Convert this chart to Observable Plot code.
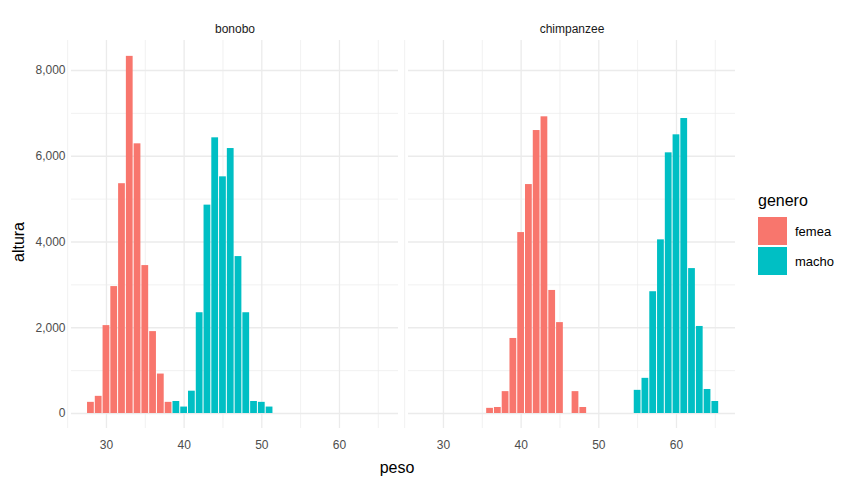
<!DOCTYPE html>
<html><head><meta charset="utf-8">
<script src="https://cdn.jsdelivr.net/npm/d3@7"></script>
<script src="https://cdn.jsdelivr.net/npm/@observablehq/plot@0.6"></script>
<style>
body{margin:0;font-family:"Liberation Sans",Arial,sans-serif;background:#fff}
#wrap{position:relative;width:862px;height:486px}
#legend{position:absolute;left:758px;top:192px;font-size:13px;color:#000}
#legend .t{font-size:16px;margin-bottom:6px}
#legend .r{display:flex;align-items:center;height:30px}
#legend .b{width:29px;height:28px;margin-right:8px}
</style></head><body>
<div id="wrap"><div id="chart"></div>
<div id="legend"><div class="t">genero</div>
<div class="r"><div class="b" style="background:#F8766D"></div>femea</div>
<div class="r"><div class="b" style="background:#00BFC4"></div>macho</div></div></div>
<script>
const species = ["bonobo","chimpanzee"];
const generos = ["femea","macho"];
const bonoboFemeaBins = [28,29,30,31,32,33,34,35,36,37,38];
const bonoboFemeaCounts = [260,400,2050,2960,5360,8330,6290,3450,1910,920,260];
const bonoboMachoBins = [39,40,41,42,43,44,45,46,47,48,49,50,51];
const bonoboMachoCounts = [280,150,520,2350,4860,6430,5520,6180,3660,2350,280,260,150];
const chimpFemeaBins = [36,37,38,39,40,41,42,43,44,45,47,48];
const chimpFemeaCounts = [120,140,510,1750,4220,5340,6600,6920,2870,2120,510,140];
const chimpMachoBins = [55,56,57,58,59,60,61,62,63,64,65];
const chimpMachoCounts = [540,820,2840,4050,6080,6500,6880,3380,2030,560,280];
const xTicks = [30,40,50,60];
const yTicks = [0,2000,4000,6000,8000];

const rows = [];
const add = (sp, g, bins, counts) => bins.forEach((b,i)=>rows.push({sp, g, x1:b-0.5, x2:b+0.5, y:counts[i]}));
add("bonobo","femea",bonoboFemeaBins,bonoboFemeaCounts);
add("bonobo","macho",bonoboMachoBins,bonoboMachoCounts);
add("chimpanzee","femea",chimpFemeaBins,chimpFemeaCounts);
add("chimpanzee","macho",chimpMachoBins,chimpMachoCounts);

const g = "#ebebeb";
const chart = Plot.plot({
  width: 862, height: 486,
  marginLeft: 70, marginRight: 127, marginTop: 40, marginBottom: 58,
  style: {fontFamily: "Liberation Sans, Arial, sans-serif", fontSize: "12px"},
  fx: {domain: species, paddingInner: 0.03, paddingOuter: 0, label: null},
  x: {domain: [25.5, 67.6]},
  y: {domain: [-350, 8700]},
  color: {domain: generos, range: ["#F8766D","#00BFC4"]},
  marks: [
    Plot.gridX(d3.range(25,70,5), {stroke: g, strokeOpacity: 1, strokeWidth: d=> d%10===0?1.3:0.7}),
    Plot.gridY(d3.range(0,9000,1000), {stroke: g, strokeOpacity: 1, strokeWidth: d=> d%2000===0?1.3:0.7}),
    Plot.rectY(rows, {fx: "sp", x1: "x1", x2: "x2", y: "y", fill: "g", insetLeft: 0.5, insetRight: 0.5}),
    Plot.axisFx({anchor: "top", label: null, tickSize: 0, tickPadding: 8, fontSize: 12, fill: "#1a1a1a"}),
    Plot.axisX(xTicks, {tickSize: 0, tickPadding: 12, fill: "#4d4d4d", fontSize: 12, label: null}),
    Plot.axisY(yTicks, {tickSize: 0, tickPadding: 6, fill: "#4d4d4d", fontSize: 12, label: null}),
  ]
});
document.getElementById("chart").appendChild(chart);
const svg = d3.select(chart);
svg.append("text").attr("x", 397).attr("y", 473).attr("text-anchor","middle").attr("font-size",16).attr("fill","#000").text("peso");
svg.append("text").attr("transform","translate(24,242) rotate(-90)").attr("text-anchor","middle").attr("font-size",16).attr("fill","#000").text("altura");
</script></body></html>
